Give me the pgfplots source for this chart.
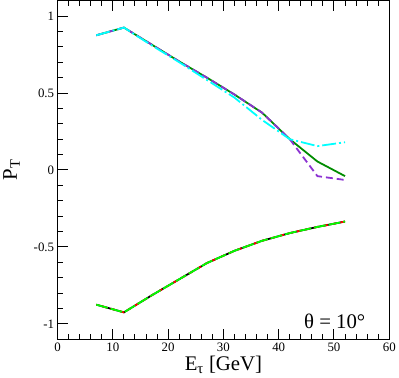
\documentclass[border=0pt]{standalone}
\usepackage{fontspec}
\setmainfont{Liberation Serif}
\usepackage{pgfplots}
\pgfplotsset{compat=1.18}
\definecolor{dgreen}{RGB}{0,140,0}
\definecolor{violet}{RGB}{140,50,210}
\definecolor{lime}{RGB}{0,255,0}
\definecolor{cyn}{RGB}{0,255,255}
\begin{document}
\begin{tikzpicture}[x=1bp,y=1bp]
\begin{axis}[
  scale only axis, width=334bp, height=341bp,
  xmin=0, xmax=60, ymin=-1.1, ymax=1.1,
  xtick={0,10,...,60}, minor x tick num=4,
  ytick={-1,-0.5,0,0.5,1}, minor y tick num=4,
  yticklabels={-1,-0.5,0,0.5,1},
  xtick pos=both, ytick pos=left,
  tick align=inside,
  major tick length=10bp, minor tick length=5bp,
  axis line style={line width=1.3bp},
  every tick/.style={line width=1bp, black},
  /pgf/number format/assume math mode=true,
  tick label style={font=\fontsize{13}{14}\selectfont},
  xlabel={E\textsubscript{τ} [GeV]},
  ylabel={P\textsubscript{T}},
  label style={font=\fontsize{21}{22}\selectfont},
  xlabel style={yshift=2bp},
  ylabel style={yshift=7bp},
]
\addplot[dgreen, line width=1.8bp] coordinates {(7,0.875)(12,0.925)(17,0.815)(22,0.705)(27,0.600)(32,0.490)(37,0.372)(42,0.200)(47,0.055)(52,-0.040)};
\addplot[violet, line width=1.8bp, dash pattern=on 7bp off 4bp] coordinates {(7,0.875)(12,0.925)(17,0.815)(22,0.705)(27,0.600)(32,0.490)(37,0.372)(42,0.200)(47,-0.040)(52,-0.065)};
\addplot[cyn, line width=1.8bp, dash pattern=on 14bp off 3bp on 2bp off 3bp] coordinates {(7,0.875)(12,0.925)(17,0.810)(22,0.700)(27,0.585)(32,0.470)(37,0.325)(42,0.200)(47,0.155)(52,0.180)};
\addplot[black, line width=1.8bp] coordinates {(7,-0.875)(12,-0.925)(17,-0.815)(22,-0.710)(27,-0.605)(32,-0.525)(37,-0.460)(42,-0.410)(47,-0.370)(52,-0.335)};
\addplot[red, line width=1.8bp, dash pattern=on 5bp off 4bp, dash phase=3bp] coordinates {(7,-0.875)(12,-0.925)(17,-0.815)(22,-0.710)(27,-0.605)(32,-0.525)(37,-0.460)(42,-0.410)(47,-0.370)(52,-0.335)};
\addplot[lime, line width=1.8bp, dash pattern=on 12bp off 3bp] coordinates {(7,-0.875)(12,-0.925)(17,-0.815)(22,-0.710)(27,-0.605)(32,-0.525)(37,-0.460)(42,-0.410)(47,-0.370)(52,-0.335)};
\node[anchor=base east, font=\fontsize{21}{22}\selectfont] at (axis cs:56.3,-1.03) {θ = 10°};
\end{axis}
\end{tikzpicture}
\end{document}
